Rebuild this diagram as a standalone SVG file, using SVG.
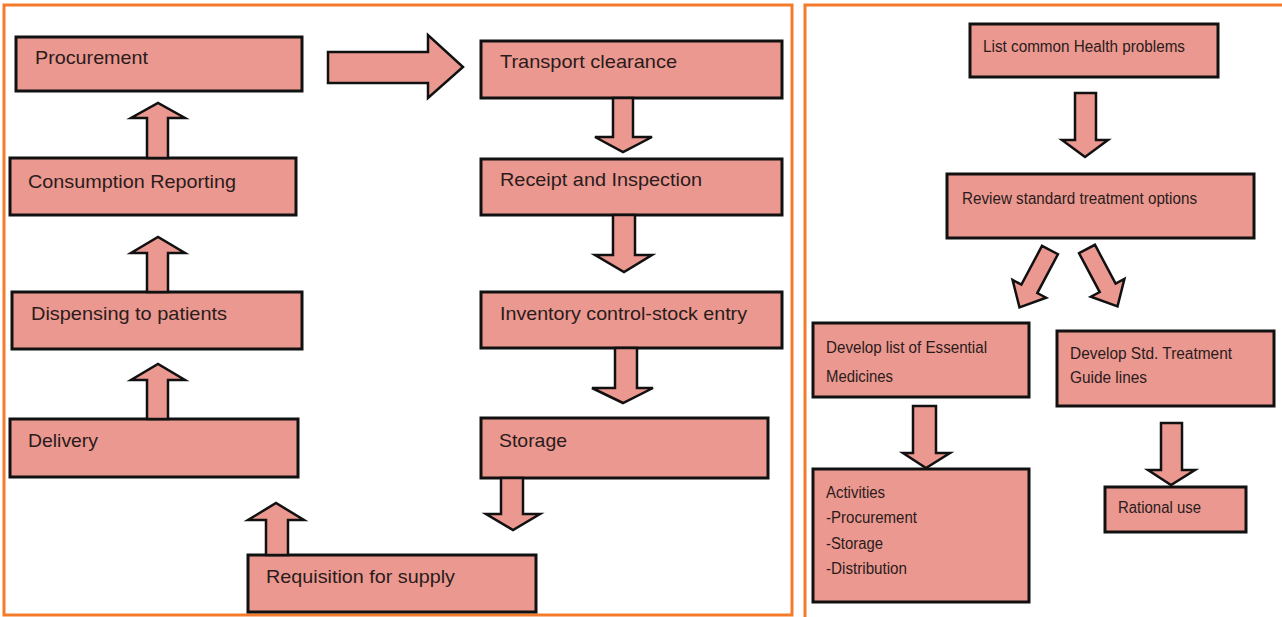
<svg xmlns="http://www.w3.org/2000/svg" width="1282" height="617" viewBox="0 0 1282 617">
  <style>
    .frame { fill: none; stroke: #f47a2c; stroke-width: 3; }
    .box { fill: #ea9890; stroke: #111; stroke-width: 3; }
    .arrow { fill: #ea9890; stroke: #111; stroke-width: 2.5; stroke-linejoin: miter; }
    .lbl { font-family: "Liberation Sans", Arial, sans-serif; font-size: 19px; fill: #2b1b1b; }
    .lbl2 { font-family: "Liberation Sans", Arial, sans-serif; font-size: 16px; fill: #2b1b1b; }
  </style>

  <rect width="1282" height="617" fill="#ffffff"/>

  <!-- panel frames -->
  <rect class="frame" x="4" y="5" width="788" height="610"/>
  <rect class="frame" x="805" y="5" width="482" height="620"/>

  <!-- supply cycle (left panel) -->
  <g id="procurement">
    <rect class="box" x="16" y="37" width="286" height="54"/>
    <text class="lbl" x="35" y="64" textLength="113" lengthAdjust="spacingAndGlyphs">Procurement</text>
  </g>
  <g id="consumption-reporting">
    <rect class="box" x="10" y="158" width="286" height="57"/>
    <text class="lbl" x="28" y="188" textLength="208" lengthAdjust="spacingAndGlyphs">Consumption Reporting</text>
  </g>
  <g id="dispensing">
    <rect class="box" x="12" y="292" width="290" height="57"/>
    <text class="lbl" x="31" y="320" textLength="196" lengthAdjust="spacingAndGlyphs">Dispensing to patients</text>
  </g>
  <g id="delivery">
    <rect class="box" x="10" y="419" width="288" height="58"/>
    <text class="lbl" x="28" y="447" textLength="70" lengthAdjust="spacingAndGlyphs">Delivery</text>
  </g>
  <g id="requisition">
    <rect class="box" x="248" y="555" width="288" height="57"/>
    <text class="lbl" x="266" y="583" textLength="189" lengthAdjust="spacingAndGlyphs">Requisition for supply</text>
  </g>
  <g id="transport-clearance">
    <rect class="box" x="481" y="41" width="301" height="57"/>
    <text class="lbl" x="500" y="68" textLength="177" lengthAdjust="spacingAndGlyphs">Transport clearance</text>
  </g>
  <g id="receipt-inspection">
    <rect class="box" x="481" y="159" width="301" height="56"/>
    <text class="lbl" x="500" y="186" textLength="202" lengthAdjust="spacingAndGlyphs">Receipt and Inspection</text>
  </g>
  <g id="inventory-control">
    <rect class="box" x="481" y="292" width="301" height="56"/>
    <text class="lbl" x="500" y="320" textLength="247" lengthAdjust="spacingAndGlyphs">Inventory control-stock entry</text>
  </g>
  <g id="storage">
    <rect class="box" x="481" y="418" width="287" height="60"/>
    <text class="lbl" x="499" y="447" textLength="68" lengthAdjust="spacingAndGlyphs">Storage</text>
  </g>

  <!-- essential medicines flow (right panel) -->
  <g id="list-health-problems">
    <rect class="box" x="970" y="24" width="248" height="53"/>
    <text class="lbl2" x="983" y="52" textLength="202" lengthAdjust="spacingAndGlyphs">List common Health problems</text>
  </g>
  <g id="review-treatment">
    <rect class="box" x="947" y="174" width="307" height="64"/>
    <text class="lbl2" x="962" y="204" textLength="235" lengthAdjust="spacingAndGlyphs">Review standard treatment options</text>
  </g>
  <g id="essential-medicines">
    <rect class="box" x="813" y="323" width="216" height="74"/>
    <text class="lbl2" x="826" y="353" textLength="161" lengthAdjust="spacingAndGlyphs">Develop list of Essential</text>
    <text class="lbl2" x="826" y="382" textLength="67" lengthAdjust="spacingAndGlyphs">Medicines</text>
  </g>
  <g id="treatment-guidelines">
    <rect class="box" x="1057" y="331" width="217" height="75"/>
    <text class="lbl2" x="1070" y="359" textLength="162" lengthAdjust="spacingAndGlyphs">Develop Std. Treatment</text>
    <text class="lbl2" x="1070" y="383" textLength="77" lengthAdjust="spacingAndGlyphs">Guide lines</text>
  </g>
  <g id="activities">
    <rect class="box" x="813" y="469" width="216" height="133"/>
    <text class="lbl2" x="826" y="498" textLength="59" lengthAdjust="spacingAndGlyphs">Activities</text>
    <text class="lbl2" x="826" y="523" textLength="91" lengthAdjust="spacingAndGlyphs">-Procurement</text>
    <text class="lbl2" x="826" y="549" textLength="57" lengthAdjust="spacingAndGlyphs">-Storage</text>
    <text class="lbl2" x="826" y="574" textLength="81" lengthAdjust="spacingAndGlyphs">-Distribution</text>
  </g>
  <g id="rational-use">
    <rect class="box" x="1105" y="487" width="141" height="45"/>
    <text class="lbl2" x="1118" y="513" textLength="83" lengthAdjust="spacingAndGlyphs">Rational use</text>
  </g>

  <!-- block arrows -->
  <g id="connectors">
    <!-- Procurement to Transport clearance -->
    <polygon class="arrow" points="328,52 428,52 428,35 463,67 428,98 428,83 328,83"/>
    <!-- right column, downward -->
    <polygon class="arrow" points="613,98 633,98 633,137 652,137 623,152 595,137 613,137"/>
    <polygon class="arrow" points="613,215 635,215 635,255 652,255 624,272 595,255 613,255"/>
    <polygon class="arrow" points="615,348 637,348 637,388 653,388 623,403 592,388 615,388"/>
    <polygon class="arrow" points="501,478 523,478 523,514 540,514 513,530 486,514 501,514"/>
    <!-- Requisition up to Delivery -->
    <polygon class="arrow" points="266,555 288,555 288,520 304,520 276,503 248,520 266,520"/>
    <!-- left column, upward -->
    <polygon class="arrow" points="147,158 168,158 168,118 185,118 158,103 131,118 147,118"/>
    <polygon class="arrow" points="147,292 168,292 168,253 185,253 158,237 131,253 147,253"/>
    <polygon class="arrow" points="147,419 168,419 168,380 185,380 158,364 131,380 147,380"/>

    <!-- right panel -->
    <polygon class="arrow" points="1075,93 1096,93 1096,140 1108,140 1085,157 1062,140 1075,140"/>
    <g transform="translate(1050,250) rotate(28)">
      <polygon class="arrow" points="-9,0 9,0 9,44 19,44 0,65 -19,44 -9,44"/>
    </g>
    <g transform="translate(1087,249) rotate(-28)">
      <polygon class="arrow" points="-9,0 9,0 9,44 19,44 0,65 -19,44 -9,44"/>
    </g>
    <polygon class="arrow" points="913,406 936,406 936,453 950,453 926,468 903,453 913,453"/>
    <polygon class="arrow" points="1161,423 1182,423 1182,470 1195,470 1171,485 1148,470 1161,470"/>
  </g>
</svg>
